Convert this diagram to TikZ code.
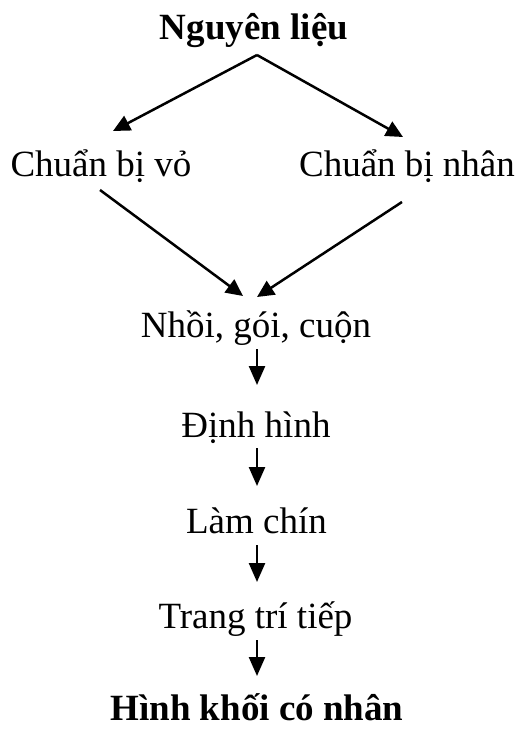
\documentclass[tikz,border=0pt]{standalone}
\usepackage{fontspec}
\setmainfont{Liberation Serif}
\usetikzlibrary{arrows.meta}
\begin{document}
\begin{tikzpicture}[x=1pt,y=-1pt,
  txt/.style={font=\fontsize{37}{44}\selectfont, inner sep=0pt, anchor=base},
  btxt/.style={txt, font=\fontsize{37}{44}\selectfont\bfseries},
  big/.style={line width=2.5pt, -{Triangle[length=17pt,width=16pt]}},
  small/.style={line width=2.5pt, -{Triangle[length=19pt,width=16pt]}}]
\useasboundingbox (0,0) rectangle (525,730);
\node[btxt] (nl) at (254,40) {Nguyên liệu};
\node[txt] (cv) at (101,177) {Chuẩn bị vỏ};
\node[txt] (cn) at (407,177) {Chuẩn bị nhân};
\node[txt] (ng) at (256,337) {Nhồi, gói, cuộn};
\node[txt] (dh) at (256,437) {Định hình};
\node[txt] (lc) at (256.5,533) {Làm chín};
\node[txt] (tt) at (255.5,628) {Trang trí tiếp};
\node[btxt] (hk) at (257,720) {Hình khối có nhân};
\coordinate (apex) at (257,55);
\coordinate (cvIn) at (113,131);
\coordinate (cnIn) at (403,137);
\coordinate (cvOut) at (100,190);
\coordinate (cnOut) at (402,202);
\coordinate (ngL) at (243,296);
\coordinate (ngR) at (257,297);
\coordinate (a1s) at (257,349);
\coordinate (a1e) at (257,385);
\coordinate (a2s) at (257,448);
\coordinate (a2e) at (257,486);
\coordinate (a3s) at (257,545);
\coordinate (a3e) at (257,582);
\coordinate (a4s) at (257,640);
\coordinate (a4e) at (257,676);
\draw[big] (apex) -- (cvIn);
\draw[big] (apex) -- (cnIn);
\draw[big] (cvOut) -- (ngL);
\draw[big] (cnOut) -- (ngR);
\draw[small] (a1s) -- (a1e);
\draw[small] (a2s) -- (a2e);
\draw[small] (a3s) -- (a3e);
\draw[small] (a4s) -- (a4e);
\end{tikzpicture}
\end{document}
